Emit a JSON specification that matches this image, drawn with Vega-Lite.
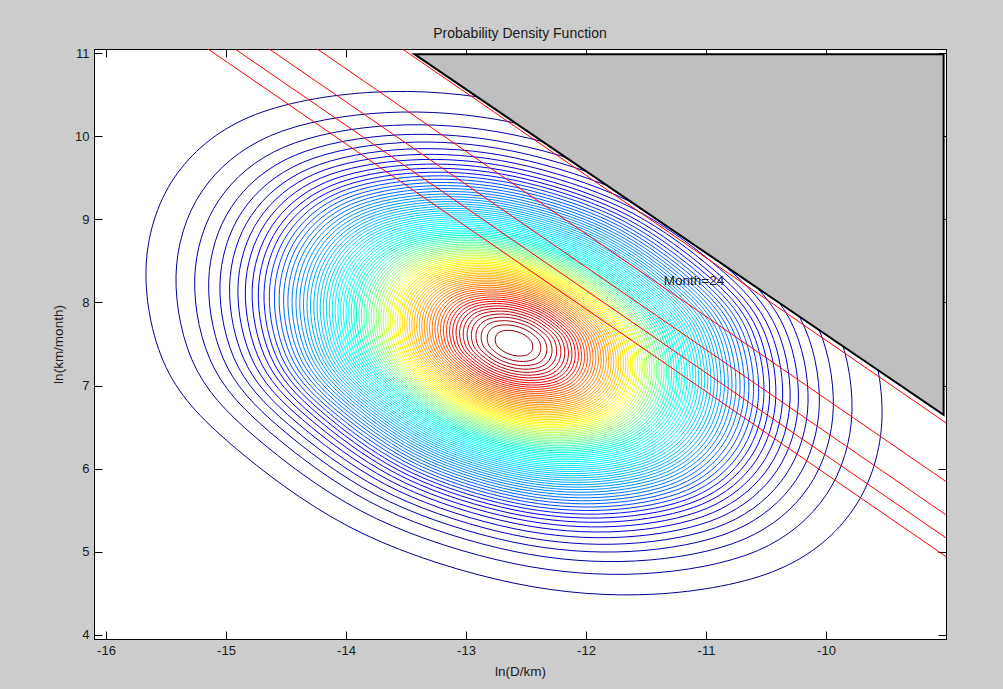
{
  "$schema": "https://vega.github.io/schema/vega-lite/v6.json",
  "width": 852,
  "height": 590,
  "autosize": {"type": "none"},
  "padding": {"left": 94, "top": 49, "right": 57, "bottom": 50},
  "background": "#cccccc",
  "title": {"text": "Probability Density Function", "fontSize": 14, "fontWeight": "normal", "font": "Liberation Sans", "color": "#1a1a1a", "offset": 6},
  "config": {
    "view": {"fill": "white", "stroke": "black", "strokeWidth": 1},
    "axis": {
      "labelFont": "Liberation Sans", "titleFont": "Liberation Sans",
      "labelFontSize": 13, "titleFontSize": 13.5, "titleFontWeight": "normal",
      "labelColor": "#1a1a1a", "titleColor": "#1a1a1a",
      "domainColor": "black", "tickColor": "black", "domainWidth": 1, "tickWidth": 1,
      "grid": false, "tickSize": -8, "labelPadding": 13
    }
  },
  "datasets": {
    "contours": [
      {"level": 0.0116, "x": -12.6, "y": 7.51}, {"level": 0.0233, "x": -12.6, "y": 7.51}, {"level": 0.0349, "x": -12.6, "y": 7.51}, {"level": 0.0465, "x": -12.6, "y": 7.51}, {"level": 0.0581, "x": -12.6, "y": 7.51},
      {"level": 0.0698, "x": -12.6, "y": 7.51}, {"level": 0.0814, "x": -12.6, "y": 7.51}, {"level": 0.0930, "x": -12.6, "y": 7.51}, {"level": 0.1047, "x": -12.6, "y": 7.51}, {"level": 0.1163, "x": -12.6, "y": 7.51},
      {"level": 0.1279, "x": -12.6, "y": 7.51}, {"level": 0.1395, "x": -12.6, "y": 7.51}, {"level": 0.1512, "x": -12.6, "y": 7.51}, {"level": 0.1628, "x": -12.6, "y": 7.51}, {"level": 0.1744, "x": -12.6, "y": 7.51},
      {"level": 0.1860, "x": -12.6, "y": 7.51}, {"level": 0.1977, "x": -12.6, "y": 7.51}, {"level": 0.2093, "x": -12.6, "y": 7.51}, {"level": 0.2209, "x": -12.6, "y": 7.51}, {"level": 0.2326, "x": -12.6, "y": 7.51},
      {"level": 0.2442, "x": -12.6, "y": 7.51}, {"level": 0.2558, "x": -12.6, "y": 7.51}, {"level": 0.2674, "x": -12.6, "y": 7.51}, {"level": 0.2791, "x": -12.6, "y": 7.51}, {"level": 0.2907, "x": -12.6, "y": 7.51},
      {"level": 0.3023, "x": -12.6, "y": 7.51}, {"level": 0.3140, "x": -12.6, "y": 7.51}, {"level": 0.3256, "x": -12.6, "y": 7.51}, {"level": 0.3372, "x": -12.6, "y": 7.51}, {"level": 0.3488, "x": -12.6, "y": 7.51},
      {"level": 0.3605, "x": -12.6, "y": 7.51}, {"level": 0.3721, "x": -12.6, "y": 7.51}, {"level": 0.3837, "x": -12.6, "y": 7.51}, {"level": 0.3953, "x": -12.6, "y": 7.51}, {"level": 0.4070, "x": -12.6, "y": 7.51},
      {"level": 0.4186, "x": -12.6, "y": 7.51}, {"level": 0.4302, "x": -12.6, "y": 7.51}, {"level": 0.4419, "x": -12.6, "y": 7.51}, {"level": 0.4535, "x": -12.6, "y": 7.51}, {"level": 0.4651, "x": -12.6, "y": 7.51},
      {"level": 0.4767, "x": -12.6, "y": 7.51}, {"level": 0.4884, "x": -12.6, "y": 7.51}, {"level": 0.5000, "x": -12.6, "y": 7.51}, {"level": 0.5116, "x": -12.6, "y": 7.51}, {"level": 0.5233, "x": -12.6, "y": 7.51},
      {"level": 0.5349, "x": -12.6, "y": 7.51}, {"level": 0.5465, "x": -12.6, "y": 7.51}, {"level": 0.5581, "x": -12.6, "y": 7.51}, {"level": 0.5698, "x": -12.6, "y": 7.51}, {"level": 0.5814, "x": -12.6, "y": 7.51},
      {"level": 0.5930, "x": -12.6, "y": 7.51}, {"level": 0.6047, "x": -12.6, "y": 7.51}, {"level": 0.6163, "x": -12.6, "y": 7.51}, {"level": 0.6279, "x": -12.6, "y": 7.51}, {"level": 0.6395, "x": -12.6, "y": 7.51},
      {"level": 0.6512, "x": -12.6, "y": 7.51}, {"level": 0.6628, "x": -12.6, "y": 7.51}, {"level": 0.6744, "x": -12.6, "y": 7.51}, {"level": 0.6860, "x": -12.6, "y": 7.51}, {"level": 0.6977, "x": -12.6, "y": 7.51},
      {"level": 0.7093, "x": -12.6, "y": 7.51}, {"level": 0.7209, "x": -12.6, "y": 7.51}, {"level": 0.7326, "x": -12.6, "y": 7.51}, {"level": 0.7442, "x": -12.6, "y": 7.51}, {"level": 0.7558, "x": -12.6, "y": 7.51},
      {"level": 0.7674, "x": -12.6, "y": 7.51}, {"level": 0.7791, "x": -12.6, "y": 7.51}, {"level": 0.7907, "x": -12.6, "y": 7.51}, {"level": 0.8023, "x": -12.6, "y": 7.51}, {"level": 0.8140, "x": -12.6, "y": 7.51},
      {"level": 0.8256, "x": -12.6, "y": 7.51}, {"level": 0.8372, "x": -12.6, "y": 7.51}, {"level": 0.8488, "x": -12.6, "y": 7.51}, {"level": 0.8605, "x": -12.6, "y": 7.51}, {"level": 0.8721, "x": -12.6, "y": 7.51},
      {"level": 0.8837, "x": -12.6, "y": 7.51}, {"level": 0.8953, "x": -12.6, "y": 7.51}, {"level": 0.9070, "x": -12.6, "y": 7.51}, {"level": 0.9186, "x": -12.6, "y": 7.51}, {"level": 0.9302, "x": -12.6, "y": 7.51},
      {"level": 0.9419, "x": -12.6, "y": 7.51}, {"level": 0.9535, "x": -12.6, "y": 7.51}, {"level": 0.9651, "x": -12.6, "y": 7.51}, {"level": 0.9767, "x": -12.6, "y": 7.51}, {"level": 0.9884, "x": -12.6, "y": 7.51}
    ],
    "redlines": [
      {"id": 1, "x": -13.53, "y": 11.05}, {"id": 1, "x": -9.0, "y": 6.551},
      {"id": 2, "x": -14.24, "y": 11.05}, {"id": 2, "x": -9.0, "y": 5.845},
      {"id": 3, "x": -14.64, "y": 11.05}, {"id": 3, "x": -9.0, "y": 5.444},
      {"id": 4, "x": -14.925, "y": 11.05}, {"id": 4, "x": -9.0, "y": 5.167},
      {"id": 5, "x": -15.15, "y": 11.05}, {"id": 5, "x": -9.0, "y": 4.942}
    ],
    "triangle": [
      {"x": -13.43, "y": 10.988, "y2": 10.988},
      {"x": -9.02, "y": 6.647, "y2": 10.988}
    ],
    "labels": [
      {"x": -11.1, "y": 8.26, "text": "Month=24"}
    ]
  },
  "resolve": {"axis": {"x": "independent", "y": "independent"}},
  "layer": [
    {
      "data": {"name": "contours"},
      "mark": {"type": "point", "shape": "M1,0.2011C0.9977,0.2894 0.9706,0.3796 0.9239,0.4484C0.8773,0.5172 0.8107,0.5752 0.7201,0.6141C0.6295,0.6531 0.5004,0.6758 0.3804,0.6821C0.2604,0.6885 0.1313,0.6794 0,0.6522C-0.1313,0.625 -0.2853,0.577 -0.4076,0.519C-0.5299,0.461 -0.6454,0.3772 -0.7337,0.3043C-0.822,0.2314 -0.8931,0.1657 -0.9375,0.0815C-0.9819,-0.0027 -1.0023,-0.1128 -1,-0.2011C-0.9977,-0.2894 -0.9706,-0.3796 -0.9239,-0.4484C-0.8773,-0.5172 -0.8107,-0.5752 -0.7201,-0.6141C-0.6295,-0.6531 -0.5004,-0.6758 -0.3804,-0.6821C-0.2604,-0.6885 -0.1313,-0.6794 0,-0.6522C0.1313,-0.625 0.2853,-0.577 0.4076,-0.519C0.5299,-0.461 0.6454,-0.3772 0.7337,-0.3043C0.822,-0.2314 0.8931,-0.1657 0.9375,-0.0815C0.9819,0.0027 1.0023,0.1128 1,0.2011Z", "filled": false, "strokeWidth": 1, "opacity": 1},
      "encoding": {
        "x": {"field": "x", "type": "quantitative", "scale": {"domain": [-16.1, -9.0], "nice": false, "zero": false},
              "axis": {"orient": "bottom", "values": [-16, -15, -14, -13, -12, -11, -10], "labelExpr": "'' + datum.value", "title": "ln(D/km)", "titlePadding": 7}},
        "y": {"field": "y", "type": "quantitative", "scale": {"domain": [3.95, 11.05], "nice": false, "zero": false},
              "axis": {"orient": "left", "values": [4, 5, 6, 7, 8, 9, 10, 11], "labelExpr": "'' + datum.value", "title": "ln(km/month)", "titlePadding": 9}},
        "size": {"field": "level", "type": "quantitative", "scale": {"type": "log", "domain": [0.0116, 1], "range": [541696, 0]}, "legend": null},
        "color": {"field": "level", "type": "quantitative", "scale": {"domain": [0, 0.125, 0.375, 0.625, 0.875, 1], "range": ["#000080", "#0000ff", "#00ffff", "#ffff00", "#ff0000", "#800000"]}, "legend": null}
      }
    },
    {
      "data": {"name": "redlines"},
      "mark": {"type": "line", "color": "#ff0000", "strokeWidth": 1, "clip": true},
      "encoding": {
        "x": {"field": "x", "type": "quantitative", "scale": {"domain": [-16.1, -9.0], "nice": false, "zero": false}, "axis": null},
        "y": {"field": "y", "type": "quantitative", "scale": {"domain": [3.95, 11.05], "nice": false, "zero": false}, "axis": null},
        "detail": {"field": "id", "type": "nominal"}
      }
    },
    {
      "data": {"name": "triangle"},
      "mark": {"type": "area", "fill": "#bfbfbf", "stroke": "black", "strokeWidth": 2, "opacity": 1, "fillOpacity": 1},
      "encoding": {
        "x": {"field": "x", "type": "quantitative", "scale": {"domain": [-16.1, -9.0], "nice": false, "zero": false}, "axis": null},
        "y": {"field": "y", "type": "quantitative", "scale": {"domain": [3.95, 11.05], "nice": false, "zero": false}, "axis": null},
        "y2": {"field": "y2"}
      }
    },
    {
      "data": {"name": "labels"},
      "mark": {"type": "text", "font": "Liberation Sans", "fontSize": 13.5, "color": "#1a1a1a", "align": "center", "baseline": "middle"},
      "encoding": {
        "x": {"field": "x", "type": "quantitative", "scale": {"domain": [-16.1, -9.0], "nice": false, "zero": false},
              "axis": {"orient": "top", "values": [-16, -15, -14, -13, -12, -11, -10], "labels": false, "title": null}},
        "y": {"field": "y", "type": "quantitative", "scale": {"domain": [3.95, 11.05], "nice": false, "zero": false},
              "axis": {"orient": "right", "values": [4, 5, 6, 7, 8, 9, 10, 11], "labels": false, "title": null}},
        "text": {"field": "text"}
      }
    }
  ]
}
